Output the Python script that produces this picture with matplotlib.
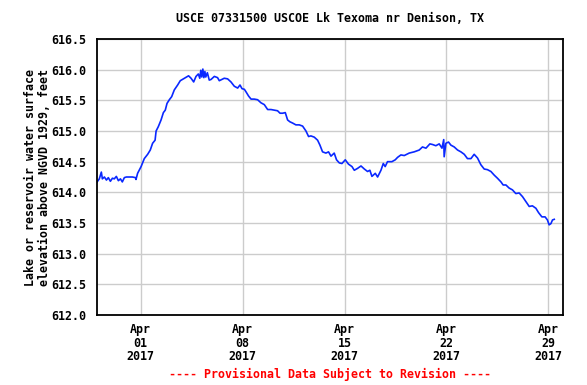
import datetime as dt
import matplotlib
matplotlib.use("Agg")
import matplotlib.pyplot as plt
import matplotlib.dates as mdates

# days after 2017-03-29 00:00
days = [0.01, 0.16, 0.30, 0.37, 0.51, 0.65, 0.78, 0.92, 1.06, 1.19, 1.33, 1.47,
        1.61, 1.74, 1.88, 2.02, 2.22, 2.43, 2.64, 2.68, 2.79, 3.03, 3.25, 3.48,
        3.66, 3.82, 3.99, 4.06, 4.21, 4.40, 4.56, 4.69, 4.81, 4.97, 5.13, 5.31,
        5.54, 5.72, 6.00, 6.29, 6.46, 6.64, 6.80, 6.96, 7.06, 7.13, 7.20, 7.27,
        7.34, 7.41, 7.47, 7.58, 7.71, 7.83, 8.06, 8.28, 8.40, 8.74, 8.97, 9.20,
        9.43, 9.66, 9.82, 9.96, 10.12, 10.23, 10.41, 10.58, 10.80, 11.03, 11.26,
        11.49, 11.72, 11.95, 12.17, 12.40, 12.57, 12.75, 12.93, 13.09, 13.25,
        13.43, 13.66, 13.89, 14.12, 14.35, 14.53, 14.69, 14.92, 15.15, 15.31,
        15.49, 15.72, 15.90, 16.07, 16.29, 16.45, 16.64, 16.82, 17.05, 17.27,
        17.51, 17.67, 17.89, 18.13, 18.36, 18.58, 18.74, 18.88, 19.11, 19.27,
        19.50, 19.66, 19.79, 19.95, 20.25, 20.48, 20.64, 20.87, 21.10, 21.44,
        21.78, 22.13, 22.35, 22.59, 22.86, 23.04, 23.27, 23.50, 23.69, 23.81,
        23.84, 23.96, 24.14, 24.30, 24.53, 24.76, 24.99, 25.22, 25.44, 25.68,
        25.90, 26.13, 26.36, 26.59, 26.81, 27.05, 27.28, 27.50, 27.74, 27.89,
        28.08, 28.30, 28.53, 28.76, 28.99, 29.22, 29.45, 29.68, 29.90, 30.14,
        30.32, 30.55, 30.77, 30.93, 31.05, 31.17, 31.28, 31.40]
elev = [614.17, 614.22, 614.33, 614.22, 614.25, 614.20, 614.24, 614.18, 614.23,
        614.22, 614.26, 614.19, 614.22, 614.17, 614.24, 614.25, 614.25, 614.25,
        614.24, 614.21, 614.31, 614.42, 614.55, 614.62, 614.69, 614.80, 614.85,
        615.00, 615.07, 615.18, 615.30, 615.34, 615.45, 615.51, 615.56, 615.67,
        615.75, 615.82, 615.86, 615.90, 615.86, 615.80, 615.89, 615.93, 615.86,
        615.99, 615.88, 616.01, 615.87, 615.97, 615.88, 615.95, 615.83, 615.84,
        615.89, 615.87, 615.82, 615.86, 615.85, 615.80, 615.73, 615.70, 615.75,
        615.69, 615.68, 615.64, 615.57, 615.52, 615.52, 615.51, 615.46, 615.43,
        615.35, 615.35, 615.34, 615.33, 615.29, 615.29, 615.30, 615.18, 615.15,
        615.13, 615.10, 615.10, 615.08, 615.00, 614.91, 614.92, 614.90, 614.85,
        614.77, 614.66, 614.64, 614.66, 614.59, 614.64, 614.53, 614.48, 614.47,
        614.53, 614.46, 614.42, 614.36, 614.39, 614.43, 614.38, 614.34, 614.36,
        614.26, 614.31, 614.25, 614.36, 614.47, 614.42, 614.50, 614.50, 614.53,
        614.57, 614.61, 614.60, 614.64, 614.66, 614.69, 614.74, 614.72, 614.79,
        614.78, 614.76, 614.79, 614.72, 614.86, 614.58, 614.80, 614.82, 614.77,
        614.74, 614.69, 614.66, 614.62, 614.55, 614.55, 614.62, 614.56, 614.45,
        614.38, 614.37, 614.34, 614.28, 614.23, 614.17, 614.12, 614.12, 614.07,
        614.04, 613.98, 613.99, 613.93, 613.85, 613.77, 613.78, 613.74, 613.67,
        613.60, 613.60, 613.55, 613.47, 613.49, 613.55, 613.56]

start = dt.datetime(2017, 3, 29)
times = [start + dt.timedelta(days=d) for d in days]

tick_dates = [dt.datetime(2017, 4, d) for d in (1, 8, 15, 22, 29)]
y_ticks = [612.0, 612.5, 613.0, 613.5, 614.0, 614.5, 615.0, 615.5, 616.0, 616.5]

plt.rcParams['font.family'] = ['DejaVu Sans Mono']
plt.rcParams['font.weight'] = 'bold'
fsize = 8.4

fig = plt.figure(figsize=(5.87, 3.85), dpi=100)
ax = fig.add_axes([0.1652, 0.1818, 0.7939, 0.7169])

ax.plot(times, elev, color='#0a28ff', lw=1.2)

ax.set_xlim(start, dt.datetime(2017, 4, 30))
ax.set_ylim(612.0, 616.5)
ax.set_yticks(y_ticks)
ax.set_yticklabels([f"{v:.1f}" for v in y_ticks], fontsize=fsize, fontweight='bold')
ax.set_xticks([mdates.date2num(t) for t in tick_dates])
ax.set_xticklabels([t.strftime("%b\n%d\n%Y") for t in tick_dates],
                   fontsize=fsize, fontweight='bold', linespacing=1.05)
ax.tick_params(length=0, pad=8)
ax.tick_params(axis='x', pad=6)
ax.grid(True, color='#cccccc', lw=1.0)
ax.set_axisbelow(True)
for s in ax.spines.values():
    s.set_linewidth(1.3)
    s.set_color('black')

ax.set_ylabel("Lake or reservoir water surface\nelevation above NGVD 1929, feet",
              fontsize=fsize, fontweight='bold', linespacing=1.05, labelpad=0)

fig.text(0.562, 0.953, "USCE 07331500 USCOE Lk Texoma nr Denison, TX",
         ha='center', va='center', fontsize=fsize, fontweight='bold')
fig.text(0.562, 0.0286, "---- Provisional Data Subject to Revision ----",
         ha='center', va='center', fontsize=fsize, fontweight='bold', color='#ff0000')

fig.savefig("out.png", dpi=100)
